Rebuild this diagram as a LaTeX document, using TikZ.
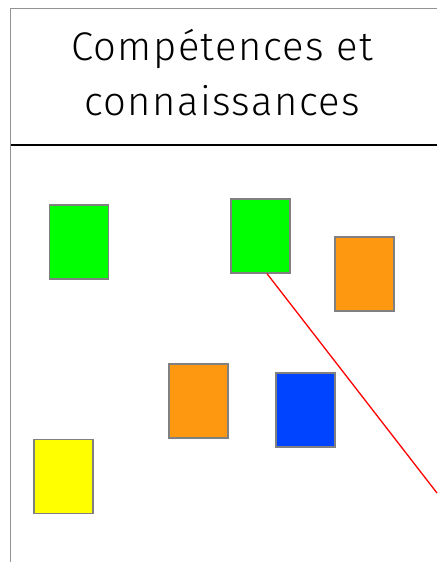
\documentclass[tikz,border=0pt]{standalone}
\usepackage{fontspec}
\setmainfont{Fira Sans Light}[LetterSpace=3.5]
\usetikzlibrary{positioning}

\begin{document}
\begin{tikzpicture}[
x=1pt, y=-1pt,
frame/.style={draw=gray!85, line width=1.5pt},
headline/.style={draw=black, line width=1.4pt},
headtext/.style={align=center, inner sep=0pt, font=\fontsize{40}{55}\selectfont},
card/.style={draw=gray, line width=1.3pt, minimum width=59pt, minimum height=74pt, inner sep=0pt},
redline/.style={draw=red, line width=1.3pt}
]
\useasboundingbox (0,0) rectangle (437,562);

\draw[frame] (437,8.5) -- (10.5,8.5) -- (10.5,562);
\draw[headline] (10.5,145) -- (437,145);

\node[headtext] (title) at (222,73) {Compétences et\\connaissances};

\node[card, fill={rgb,255:red,0;green,255;blue,0}] (green1) at (79,242) {};
\node[card, fill={rgb,255:red,0;green,255;blue,0}] (green2) at (260.5,236) {};
\node[card, fill={rgb,255:red,255;green,152;blue,17}] (orange1) at (364.5,274) {};
\node[card, fill={rgb,255:red,255;green,152;blue,17}] (orange2) at (198.5,401) {};
\node[card, fill={rgb,255:red,0;green,68;blue,255}] (blue) at (305.5,410) {};
\node[card, fill={rgb,255:red,255;green,255;blue,0}] (yellow) at (63.5,476.5) {};

\coordinate (redstart) at ([xshift=6.5pt]green2.south);
\coordinate (redend) at (437,493);
\draw[redline] (redstart) -- (redend);
\end{tikzpicture}
\end{document}
